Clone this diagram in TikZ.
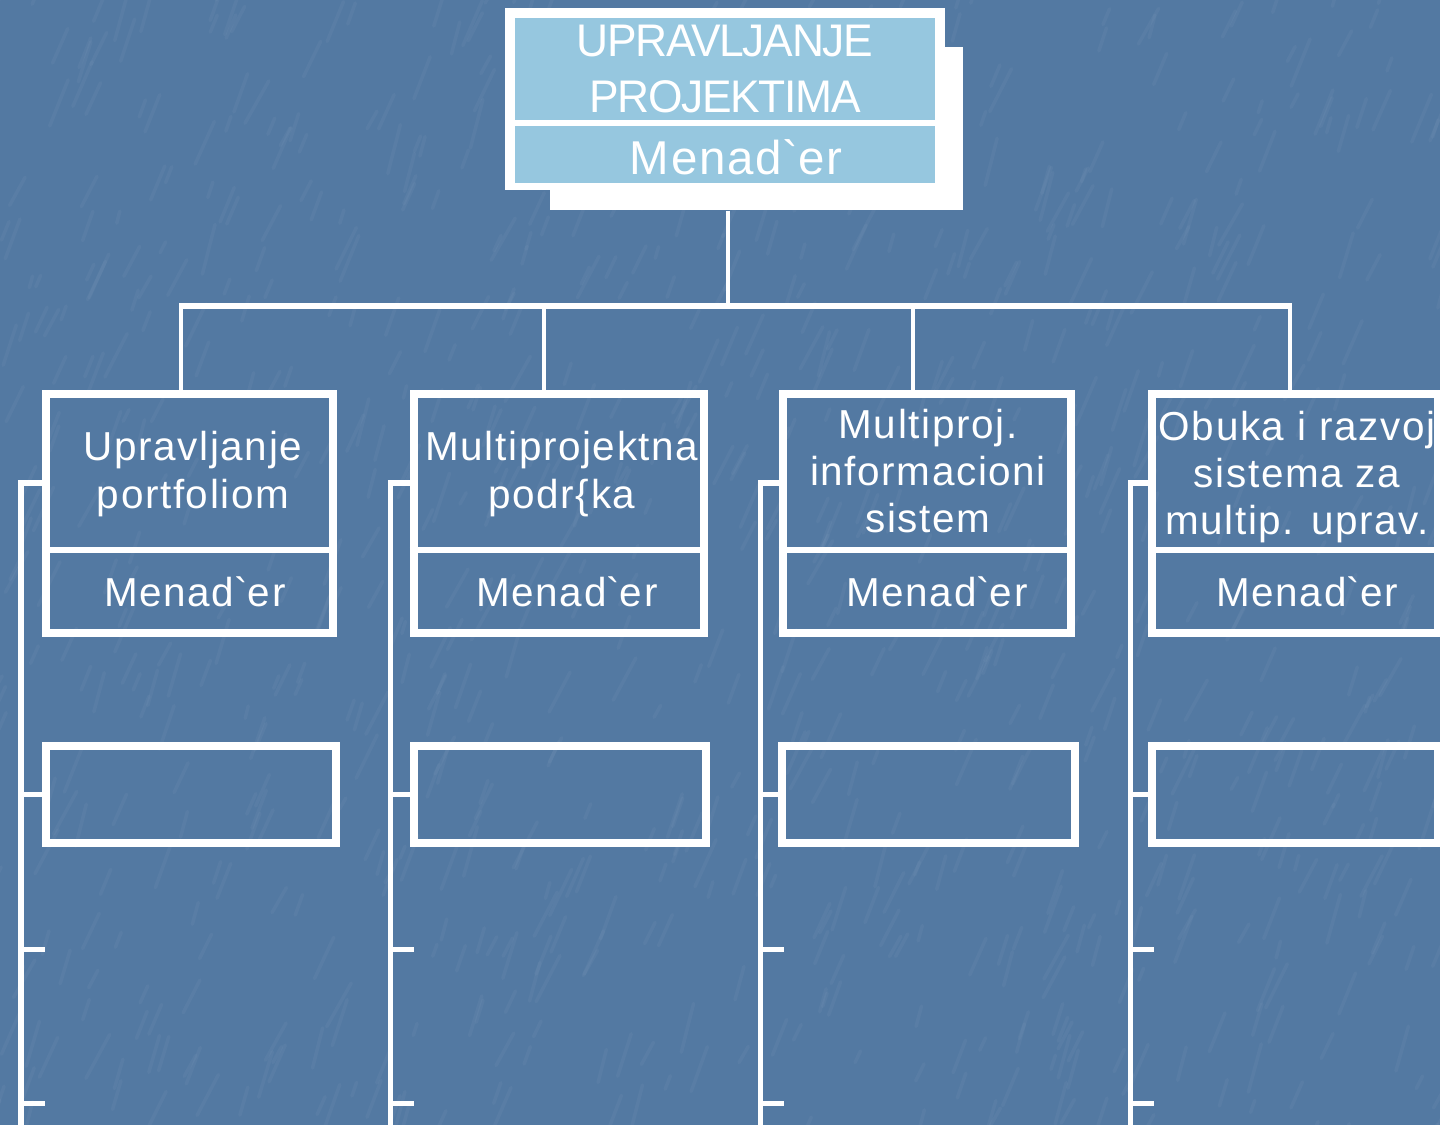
\documentclass[tikz,border=0pt]{standalone}
\usepackage{fontspec}
\usepackage{graphicx}
\setmainfont{Liberation Sans}
\newfontfamily\boxfont[LetterSpace=4]{Liberation Sans}
\newfontfamily\headfont[LetterSpace=-3]{Liberation Sans}
\definecolor{bgblue}{RGB}{83,121,162}
\definecolor{cellblue}{RGB}{150,199,223}
\newcommand{\mgr}{Menad\textasciigrave er}
\tikzset{
  frame/.style={draw=white, line width=0.08cm, rectangle, inner sep=0pt},
  divider/.style={draw=white, line width=0.05cm},
  busline/.style={draw=white, line width=0.06cm},
  dropline/.style={draw=white, line width=0.045cm},
  colline/.style={draw=white, line width=0.05cm},
  boxtext/.style={text=white, align=center, font=\boxfont\fontsize{11.5}{13.4}\selectfont},
  headtext/.style={text=white, align=center, font=\headfont\fontsize{13}{15.6}\selectfont},
}
\begin{document}
\begin{tikzpicture}[x=0.01cm,y=-0.01cm]
% background with a soft streaked texture
\fill[bgblue] (0,0) rectangle (1440,1125);
\useasboundingbox (0,0) rectangle (1440,1125);
\begin{scope}
\clip (0,0) rectangle (1440,1125);
\pgfmathsetseed{11}
\foreach \i in {1,...,900}{
  \pgfmathsetmacro\xx{rnd*1500-30}
  \pgfmathsetmacro\yy{rnd*1180-20}
  \pgfmathsetmacro\ll{12+rnd*40}
  \pgfmathsetmacro\aa{-60-rnd*16}
  \draw[white, opacity=0.035, line width=0.035cm, line cap=round] (\xx,\yy) -- ++(\aa:\ll);
}
\end{scope}

% top box with its offset white backing
\node[fill=white, minimum width=4.13cm, minimum height=1.63cm, inner sep=0pt] (shadow) at (756.5,128.5) {};
\node[fill=white, minimum width=4.40cm, minimum height=1.82cm, inner sep=0pt] (top) at (725,99) {};
\node[fill=cellblue, minimum width=4.20cm, minimum height=1.02cm, inner sep=0pt] (topA) at (725,69) {};
\node[fill=cellblue, minimum width=4.20cm, minimum height=0.57cm, inner sep=0pt] (topB) at (725,154.5) {};
\node[headtext] (toptitle) at (725,69) {\scalebox{0.97}[1]{UPRAVLJANJE}\\[0.4pt]\scalebox{0.97}[1]{PROJEKTIMA}};
\node[headtext, font=\boxfont\fontsize{13.5}{16}\selectfont] (topmgr) at (736,157) {\mgr};

% second-level boxes
\node[frame, minimum width=2.87cm, minimum height=2.39cm] (b1) at (189.5,513.5) {};
\node[frame, minimum width=2.90cm, minimum height=2.39cm] (b2) at (559,513.5) {};
\node[frame, minimum width=2.88cm, minimum height=2.39cm] (b3) at (927,513.5) {};
\node[frame, minimum width=2.86cm, minimum height=2.39cm] (b4) at (1295,513.5) {};

\path (0,550) coordinate (dv);
\foreach \b in {b1,b2,b3,b4}{
  \draw[divider] (\b.west |- dv) -- (\b.east |- dv);
}

\node[boxtext] (t1) at (193,474) {Upravljanje\\portfoliom};
\node[boxtext] (t2) at (562,474) {Multiprojektna\\podr\{ka};
\node[boxtext] (t3) at (928,471) {Multiproj.\\informacioni\\sistem};
\node[boxtext] (t4) at (1297,477) {Obuka i razvoj\\sistema za\\multip. uprav.};

\node[boxtext] (m1) at (195,592) {\mgr};
\node[boxtext] (m2) at (567,592) {\mgr};
\node[boxtext] (m3) at (937,592) {\mgr};
\node[boxtext] (m4) at (1307,592) {\mgr};

% empty third-level boxes
\node[frame, minimum width=2.90cm, minimum height=0.97cm] (k1) at (191,794.5) {};
\node[frame, minimum width=2.92cm, minimum height=0.97cm] (k2) at (560,794.5) {};
\node[frame, minimum width=2.93cm, minimum height=0.97cm] (k3) at (928.5,794.5) {};
\node[frame, minimum width=2.86cm, minimum height=0.97cm] (k4) at (1295,794.5) {};

% tree connectors
\coordinate (bus) at (728,306);
\coordinate (d1) at (181,306);
\coordinate (d2) at (544,306);
\coordinate (d3) at (913,306);
\coordinate (d4) at (1290,306);
\draw[dropline] (bus |- shadow.south) -- (bus);
\draw[busline] ([xshift=-0.02cm]d1) -- ([xshift=0.02cm]d4);
\draw[dropline] (d1) -- (d1 |- b1.north);
\draw[dropline] (d2) -- (d2 |- b2.north);
\draw[dropline] (d3) -- (d3 |- b3.north);
\draw[dropline] (d4) -- (d4 |- b4.north);

% column rails with their stubs and ticks
\foreach \c/\x in {1/21,2/390,3/760,4/1130}{
  \coordinate (s\c) at (\x,483);
  \coordinate (e\c) at (\x,1130);
  \coordinate (ta\c) at (\x,949);
  \coordinate (tb\c) at (\x,1103);
}
\foreach \c in {1,2,3,4}{
  \draw[colline] (b\c.west |- s\c) -- (s\c) -- (e\c);
  \draw[colline] (s\c |- k\c.west) -- (k\c.west);
  \draw[colline] (ta\c) -- ++(24,0);
  \draw[colline] (tb\c) -- ++(24,0);
}
\end{tikzpicture}
\end{document}
